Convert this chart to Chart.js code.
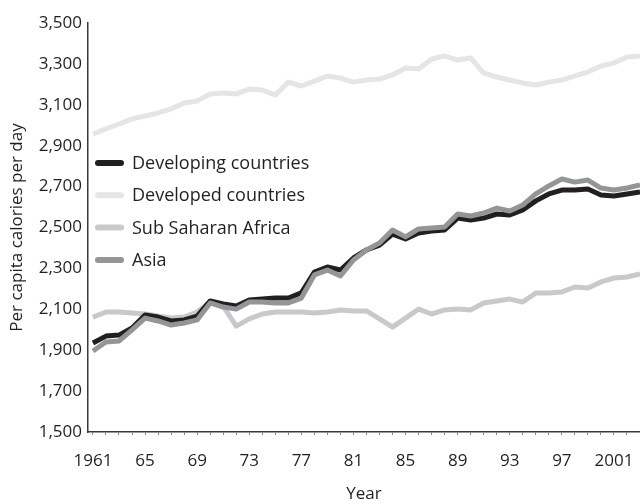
<!DOCTYPE html>
<html>
<head>
<meta charset="utf-8">
<script src="https://cdn.jsdelivr.net/npm/chart.js@4"></script>
<style>
  html, body { margin: 0; padding: 0; background: #fff; }
  #wrap { width: 640px; height: 504px; }
</style>
</head>
<body>
<div id="wrap"><canvas id="chart" width="640" height="504"></canvas></div>
<script>
// calories per capita per day, 1961-2003
const years = [];
for (let y = 1961; y <= 2003; y++) years.push(y);

const developing = [1935, 1969, 1974, 2009, 2072, 2062, 2043, 2048, 2067, 2141, 2126, 2116, 2145, 2150, 2155, 2155, 2180, 2282,
  2307, 2292, 2351, 2390, 2414, 2468, 2444, 2473, 2483, 2488, 2546, 2537, 2546, 2566, 2561, 2586, 2630, 2664, 2683, 2683, 2688, 2659, 2654, 2664, 2674];
const developed = [2957, 2982, 3006, 3031, 3045, 3060, 3080, 3109, 3119, 3153, 3158, 3153, 3177, 3172, 3148, 3211, 3192, 3216,
  3241, 3231, 3211, 3221, 3226, 3246, 3280, 3275, 3324, 3339, 3319, 3329, 3255, 3236, 3221, 3207, 3197, 3211, 3221, 3241, 3260, 3290, 3304, 3334, 3339];
const subSaharan = [2062, 2087, 2087, 2082, 2077, 2067, 2057, 2062, 2087, 2136, 2116, 2018, 2053, 2077, 2087, 2087, 2087, 2082,
  2087, 2097, 2092, 2092, 2053, 2013, 2057, 2101, 2077, 2097, 2101, 2097, 2131, 2141, 2150, 2136, 2180, 2180, 2185, 2209, 2204, 2234, 2253, 2258, 2273];
const asia = [1896, 1940, 1945, 1999, 2057, 2043, 2023, 2033, 2048, 2131, 2111, 2101, 2136, 2136, 2131, 2131, 2155, 2268,
  2292, 2263, 2341, 2390, 2424, 2488, 2454, 2493, 2498, 2502, 2566, 2556, 2571, 2595, 2581, 2610, 2664, 2703, 2737, 2722, 2732, 2693, 2683, 2693, 2708];

const seriesNames = ['Developing countries', 'Developed countries', 'Sub Saharan Africa', 'Asia'];
const seriesColors = ['#231f20', '#e4e5e6', '#c8c9cb', '#939598'];
const seriesValues = [developing, developed, subSaharan, asia];
const drawOrder = [2, 4, 3, 1];

const FONT = '"Open Sans", sans-serif';
const INK = '#231f20';

const pts = vals => years.map((y, i) => ({ x: y, y: vals[i] }));

// legend drawn inside plot, top-left under developed line
const legendPlugin = {
  id: 'sideLegend',
  afterDatasetsDraw(chart) {
    const ctx = chart.ctx;
    ctx.save();
    ctx.font = '18px ' + FONT;
    ctx.textBaseline = 'middle';
    ctx.lineCap = 'round';
    seriesNames.forEach((name, i) => {
      const y = 163 + i * 32.3;
      ctx.strokeStyle = seriesColors[i];
      ctx.lineWidth = 6;
      ctx.beginPath();
      ctx.moveTo(98, y);
      ctx.lineTo(121, y);
      ctx.stroke();
      ctx.fillStyle = INK;
      ctx.fillText(name, 132, y + 1);
    });
    ctx.restore();
  }
};

new Chart(document.getElementById('chart'), {
  type: 'line',
  data: {
    datasets: seriesNames.map((name, i) => ({
      label: name,
      data: pts(seriesValues[i]),
      borderColor: seriesColors[i],
      borderWidth: 5,
      pointRadius: 0,
      tension: 0,
      borderJoinStyle: 'round',
      order: drawOrder[i]
    }))
  },
  options: {
    responsive: false,
    animation: false,
    layout: { padding: { top: 23, right: 0, bottom: 0, left: 0 } },
    plugins: { legend: { display: false }, tooltip: { enabled: false } },
    scales: {
      x: {
        type: 'linear',
        min: 1960.62,
        max: 2003,
        afterBuildTicks: s => { s.ticks = years.map(v => ({ value: v })); },
        afterFit: s => { s.height = 72; s.paddingLeft = 0; s.paddingRight = 0; },
        grid: { drawOnChartArea: false, tickLength: 3, color: '#888', tickWidth: 1 },
        border: { color: '#3a3a3a', width: 1.5 },
        ticks: {
          autoSkip: false,
          maxRotation: 0,
          padding: 16,
          color: INK,
          font: { family: FONT, size: 17 },
          callback: v => ((v - 1961) % 4 === 0 ? (v === 1961 || v === 2001 ? String(v) : String(v).slice(2)) : '')
        },
        title: { display: true, text: 'Year', color: INK, font: { family: FONT, size: 17 }, padding: { top: 0, bottom: 0 } }
      },
      y: {
        min: 1500,
        max: 3500,
        afterFit: s => { s.width = 88; },
        grid: { display: false, drawTicks: false },
        border: { color: '#3a3a3a', width: 1.5 },
        ticks: {
          stepSize: 200,
          padding: 6,
          color: INK,
          font: { family: FONT, size: 17 },
          callback: v => v.toLocaleString('en-US')
        },
        title: { display: true, text: 'Per capita calories per day', color: INK, font: { family: FONT, size: 17 }, padding: { top: 7, bottom: 0 } }
      }
    }
  },
  plugins: [legendPlugin]
});
</script>
</body>
</html>
